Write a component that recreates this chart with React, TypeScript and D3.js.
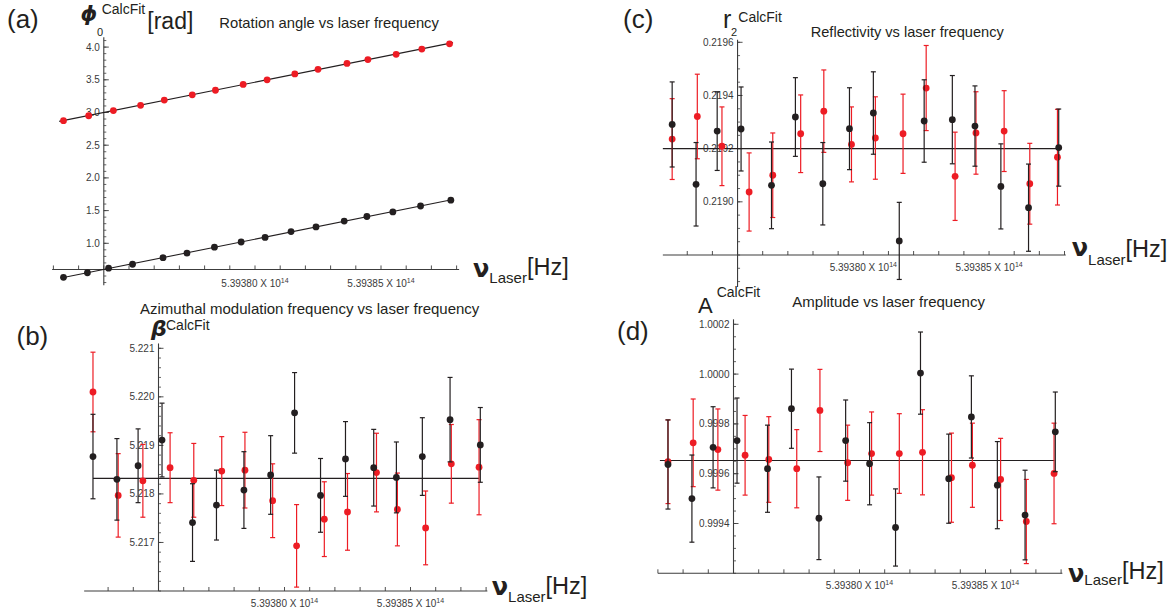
import React from 'react';
import * as d3 from 'd3';

// Laser frequency is stored as detuning (GHz) from this reference.
const NU_REF_HZ = 5.3938e14;
const GHZ = 1e9;

const nuBlackGHz = [-7.6, -6.65, -5.81, -4.86, -3.65, -2.7, -1.61, -0.55, 0.4, 1.43, 2.42, 3.54, 4.44, 5.47, 6.57, 7.77];
const nuRedGHz = [-7.6, -6.6, -5.62, -4.54, -3.6, -2.49, -1.57, -0.47, 0.48, 1.58, 2.5, 3.65, 4.48, 5.6, 6.62, 7.72];
const nuTickLabelsGHz = [0, 5];

// (a) rotation angle [rad]
const phiBlack = [0.48, 0.55, 0.62, 0.68, 0.78, 0.85, 0.94, 1.02, 1.09, 1.18, 1.25, 1.34, 1.41, 1.48, 1.57, 1.66];
const phiRed = [2.875, 2.95, 3.03, 3.11, 3.19, 3.27, 3.34, 3.43, 3.5, 3.59, 3.66, 3.75, 3.81, 3.89, 3.97, 4.05];
const phiTicks = [1.0, 1.5, 2.0, 2.5, 3.0, 3.5, 4.0];

// (b) azimuthal modulation frequency
const betaBlack = [5.21877, 5.2183, 5.21858, 5.21911, 5.21741, 5.21777, 5.21808, 5.21839, 5.21967, 5.21797, 5.21872, 5.21854, 5.21834, 5.21877, 5.21953, 5.21901];
const betaBlackErr = [0.00087, 0.00084, 0.00076, 0.00076, 0.0008, 0.00072, 0.00079, 0.00081, 0.00083, 0.00076, 0.00077, 0.00079, 0.00073, 0.0008, 0.00087, 0.00077];
const betaRed = [5.2201, 5.21797, 5.21827, 5.21854, 5.21828, 5.21847, 5.21849, 5.21786, 5.21693, 5.21748, 5.21763, 5.21844, 5.21768, 5.2173, 5.21862, 5.21855];
const betaRedErr = [0.00082, 0.00086, 0.00075, 0.00072, 0.00076, 0.00071, 0.00078, 0.00076, 0.00085, 0.00077, 0.00079, 0.00081, 0.00075, 0.00076, 0.00081, 0.00098];
const betaFit = 5.21832;
const betaTicks = [5.217, 5.218, 5.219, 5.22, 5.221];

// (c) reflectivity
const r2Black = [0.219291, 0.219066, 0.219266, 0.219274, 0.219062, 0.219319, 0.219068, 0.219275, 0.219334, 0.218853, 0.219304, 0.219309, 0.219285, 0.219058, 0.218978, 0.219204];
const r2BlackErr = [1.6e-4, 1.57e-4, 1.48e-4, 1.58e-4, 1.63e-4, 1.48e-4, 1.55e-4, 1.54e-4, 1.55e-4, 1.45e-4, 1.55e-4, 1.66e-4, 1.51e-4, 1.6e-4, 1.64e-4, 1.45e-4];
const r2Red = [0.219236, 0.219321, 0.219209, 0.219037, 0.2191, 0.219256, 0.219341, 0.219216, 0.21924, 0.219256, 0.219428, 0.219096, 0.219259, 0.219266, 0.219068, 0.219168];
const r2RedErr = [1.52e-4, 1.59e-4, 1.48e-4, 1.47e-4, 1.59e-4, 1.46e-4, 1.55e-4, 1.41e-4, 1.55e-4, 1.49e-4, 1.6e-4, 1.66e-4, 1.55e-4, 1.52e-4, 1.52e-4, 1.8e-4];
const r2Fit = 0.2192;
const r2Ticks = [0.219, 0.2192, 0.2194, 0.2196];

// (d) amplitude
const ampBlack = [0.999637, 0.9995, 0.999706, 0.999733, 0.99962, 0.999861, 0.999421, 0.999733, 0.99964, 0.999384, 1.000004, 0.99958, 0.999828, 0.999554, 0.999434, 0.999768];
const ampBlackErr = [1.79e-4, 1.75e-4, 1.63e-4, 1.71e-4, 1.75e-4, 1.59e-4, 1.66e-4, 1.63e-4, 1.65e-4, 1.55e-4, 1.65e-4, 1.79e-4, 1.65e-4, 1.75e-4, 1.8e-4, 1.6e-4];
const ampRed = [0.999648, 0.999724, 0.999697, 0.999674, 0.999657, 0.99962, 0.999854, 0.999644, 0.999681, 0.999681, 0.999686, 0.999584, 0.999634, 0.999577, 0.999408, 0.999601];
const ampRedErr = [1.68e-4, 1.76e-4, 1.63e-4, 1.6e-4, 1.72e-4, 1.57e-4, 1.65e-4, 1.51e-4, 1.67e-4, 1.6e-4, 1.71e-4, 1.79e-4, 1.69e-4, 1.65e-4, 1.69e-4, 2.02e-4];
const ampFit = 0.999653;
const ampTicks = [0.9994, 0.9996, 0.9998, 1.0, 1.0002];

const INK = '#231f20';
const RED = '#ed1c24';
const AXIS = '#3c3c3c';
const TICK_TEXT = '#3a3a3a';
const FONT = '"Liberation Sans", Arial, Helvetica, sans-serif';
const SYMBOL_FONT = '"DejaVu Sans", "Liberation Sans", sans-serif';

type Scale = d3.ScaleLinear<number, number>;

interface AxisSpec {
  x: Scale;
  y: Scale;
  xAxisAt: number;
  xAxisSpan: [number, number];
  yAxisAt: number;
  yAxisSpan: [number, number];
  yTicks: number[];
  yMinor: number[];
  yFmt: (v: number) => string;
  labelDy: number;
}

const fmtNu = (g: number) => ((NU_REF_HZ + g * GHZ) / 1e14).toFixed(5);

function Axes({ s }: { s: AxisSpec }) {
  const y0 = s.y(s.xAxisAt);
  const x0 = s.x(s.yAxisAt);
  const xt = d3.range(Math.ceil(s.xAxisSpan[0]), Math.floor(s.xAxisSpan[1]) + 1);
  return (
    <g>
      <line x1={s.x(s.xAxisSpan[0])} x2={s.x(s.xAxisSpan[1])} y1={y0} y2={y0} stroke={AXIS} strokeWidth={1.1} />
      {xt.map((t) => (
        <line key={'xt' + t} x1={s.x(t)} x2={s.x(t)} y1={y0} y2={y0 - 4} stroke={AXIS} strokeWidth={0.9} />
      ))}
      {nuTickLabelsGHz.map((t) => (
        <text key={'xl' + t} x={s.x(t)} y={y0 + s.labelDy} textAnchor="middle" fontSize={10} fill={TICK_TEXT} fontFamily={FONT}>
          {fmtNu(t)} X 10<tspan dy={-4} fontSize={7}>14</tspan>
        </text>
      ))}
      <line x1={x0} x2={x0} y1={s.y(s.yAxisSpan[0])} y2={s.y(s.yAxisSpan[1])} stroke={AXIS} strokeWidth={1.1} />
      {s.yMinor.map((t, i) => (
        <line key={'ym' + i} x1={x0} x2={x0 + 2.5} y1={s.y(t)} y2={s.y(t)} stroke={AXIS} strokeWidth={0.8} />
      ))}
      {s.yTicks.map((t, i) => (
        <g key={'yt' + i}>
          <line x1={x0} x2={x0 + 5} y1={s.y(t)} y2={s.y(t)} stroke={AXIS} strokeWidth={0.9} />
          <text x={x0 - 4} y={s.y(t) + 3.5} textAnchor="end" fontSize={10} fill={TICK_TEXT} fontFamily={FONT}>
            {s.yFmt(t)}
          </text>
        </g>
      ))}
    </g>
  );
}

function Series({ x, y, nu, vals, err, color }: { x: Scale; y: Scale; nu: number[]; vals: number[]; err?: number[]; color: string }) {
  return (
    <g>
      {err &&
        vals.map((v, i) => {
          const cx = x(nu[i]);
          const top = y(v + err[i]);
          const bot = y(v - err[i]);
          return (
            <g key={'e' + i} stroke={color} strokeWidth={1.2}>
              <line x1={cx} x2={cx} y1={top} y2={bot} />
              <line x1={cx - 2.5} x2={cx + 2.5} y1={top} y2={top} />
              <line x1={cx - 2.5} x2={cx + 2.5} y1={bot} y2={bot} />
            </g>
          );
        })}
      {vals.map((v, i) => (
        <circle key={'p' + i} cx={x(nu[i])} cy={y(v)} r={3.4} fill={color} />
      ))}
    </g>
  );
}

function linearFit(xs: number[], ys: number[]) {
  const mx = d3.mean(xs) as number;
  const my = d3.mean(ys) as number;
  let sxy = 0;
  let sxx = 0;
  xs.forEach((xv, i) => {
    sxy += (xv - mx) * (ys[i] - my);
    sxx += (xv - mx) * (xv - mx);
  });
  const slope = sxy / sxx;
  return (xv: number) => my + slope * (xv - mx);
}

function FitLine({ x, y, f, span }: { x: Scale; y: Scale; f: (v: number) => number; span: [number, number] }) {
  const line = d3
    .line<number>()
    .x((d) => x(d))
    .y((d) => y(f(d)));
  return <path d={line(span) || ''} stroke={INK} strokeWidth={1.1} fill="none" />;
}

function NuLabel({ x, y, dyLaser, dyHz }: { x: number; y: number; dyLaser: number; dyHz: number }) {
  return (
    <text x={x} y={y} fill={INK} fontFamily={FONT}>
      <tspan fontSize={24} fontWeight="bold" fontFamily={SYMBOL_FONT}>ν</tspan>
      <tspan fontSize={15} dy={dyLaser}>Laser</tspan>
      <tspan fontSize={23.5} dy={dyHz}>[Hz]</tspan>
    </text>
  );
}

export default function App() {
  // (a)
  const aS: AxisSpec = {
    x: d3.scaleLinear().domain([-8, 8]).range([53.4, 456.6]),
    y: d3.scaleLinear().domain([1, 4]).range([243.3, 47.1]),
    xAxisAt: 0.6,
    xAxisSpan: [-8.05, 8.1],
    yAxisAt: -6,
    yAxisSpan: [0.36, 4.15],
    yTicks: phiTicks,
    yMinor: d3.range(4, 42).map((i) => i / 10),
    yFmt: d3.format('.1f'),
    labelDy: 17.5,
  };
  // (b)
  const bS: AxisSpec = {
    x: d3.scaleLinear().domain([-8, 8]).range([82.9, 486.1]),
    y: d3.scaleLinear().domain([5.216, 5.221]).range([591, 348.3]),
    xAxisAt: 5.216,
    xAxisSpan: [-7.95, 8.05],
    yAxisAt: -5,
    yAxisSpan: [5.216, 5.2211],
    yTicks: betaTicks,
    yMinor: d3.range(0, 26).map((i) => 5.216 + i * 0.0002),
    yFmt: d3.format('.3f'),
    labelDy: 16,
  };
  // (c)
  const cS: AxisSpec = {
    x: d3.scaleLinear().domain([-8, 8]).range([662.1, 1064.5]),
    y: d3.scaleLinear().domain([0.2188, 0.2196]).range([255, 42.3]),
    xAxisAt: 0.2188,
    xAxisSpan: [-7.97, 8.05],
    yAxisAt: -5,
    yAxisSpan: [0.21868, 0.21961],
    yTicks: r2Ticks,
    yMinor: d3.range(0, 19).map((i) => 0.2187 + i * 0.00005),
    yFmt: d3.format('.4f'),
    labelDy: 15.5,
  };
  // (d)
  const dS: AxisSpec = {
    x: d3.scaleLinear().domain([-8, 8]).range([657.9, 1061.1]),
    y: d3.scaleLinear().domain([0.9992, 1.0002]).range([573.3, 324.3]),
    xAxisAt: 0.9992,
    xAxisSpan: [-8.0, 8.05],
    yAxisAt: -5,
    yAxisSpan: [0.9992, 1.00022],
    yTicks: ampTicks,
    yMinor: d3.range(0, 21).map((i) => 0.9992 + i * 0.00005),
    yFmt: d3.format('.4f'),
    labelDy: 15.5,
  };

  const fitBlackA = linearFit(nuBlackGHz, phiBlack);
  const fitRedA = linearFit(nuRedGHz, phiRed);

  return (
    <svg width={1175} height={613} style={{ position: 'absolute', left: 0, top: 0, background: '#fff' }} fontFamily={FONT}>
      {/* (a) rotation angle */}
      <Axes s={aS} />
      <FitLine x={aS.x} y={aS.y} f={fitRedA} span={[-7.77, 7.86]} />
      <FitLine x={aS.x} y={aS.y} f={fitBlackA} span={[-7.7, 7.9]} />
      <Series x={aS.x} y={aS.y} nu={nuRedGHz} vals={phiRed} color={RED} />
      <Series x={aS.x} y={aS.y} nu={nuBlackGHz} vals={phiBlack} color={INK} />
      <text x={7} y={28} fontSize={26} fill={INK}>(a)</text>
      <text x={80.5} y={20.5} fontSize={21} fontWeight="bold" fontStyle="italic" fill={INK} fontFamily={SYMBOL_FONT}>ϕ</text>
      <text x={97} y={36} fontSize={11} fill={INK}>0</text>
      <text x={101.7} y={13.5} fontSize={14} fill={INK}>CalcFit</text>
      <text x={147.3} y={28.5} fontSize={23} fill={INK}>[rad]</text>
      <text x={219.3} y={28.3} fontSize={14.8} fill={INK}>Rotation angle vs laser frequency</text>
      <NuLabel x={473} y={277} dyLaser={6} dyHz={-8} />

      {/* (b) azimuthal modulation frequency */}
      <Axes s={bS} />
      <FitLine x={bS.x} y={bS.y} f={() => betaFit} span={[-7.6, 7.72]} />
      <Series x={bS.x} y={bS.y} nu={nuRedGHz} vals={betaRed} err={betaRedErr} color={RED} />
      <Series x={bS.x} y={bS.y} nu={nuBlackGHz} vals={betaBlack} err={betaBlackErr} color={INK} />
      <text x={16.5} y={344.5} fontSize={26} fill={INK}>(b)</text>
      <text x={151} y={336} fontSize={22} fontWeight="bold" fontStyle="italic" fill={INK} fontFamily={SYMBOL_FONT}>β</text>
      <text x={166} y={330} fontSize={14} fill={INK}>CalcFit</text>
      <text x={140} y={314.3} fontSize={15} fill={INK}>Azimuthal modulation frequency vs laser frequency</text>
      <NuLabel x={491.7} y={595} dyLaser={6.7} dyHz={-8.2} />

      {/* (c) reflectivity */}
      <Axes s={cS} />
      <FitLine x={cS.x} y={cS.y} f={() => r2Fit} span={[-7.97, 7.89]} />
      <Series x={cS.x} y={cS.y} nu={nuRedGHz} vals={r2Red} err={r2RedErr} color={RED} />
      <Series x={cS.x} y={cS.y} nu={nuBlackGHz} vals={r2Black} err={r2BlackErr} color={INK} />
      <text x={623} y={27.8} fontSize={26} fill={INK}>(c)</text>
      <text x={723} y={28.3} fontSize={25} fill={INK}>r</text>
      <text x={731} y={36} fontSize={11} fill={INK}>2</text>
      <text x={738.3} y={21.7} fontSize={14} fill={INK}>CalcFit</text>
      <text x={810.7} y={36.5} fontSize={14.6} fill={INK}>Reflectivity vs laser frequency</text>
      <NuLabel x={1071.7} y={256} dyLaser={9} dyHz={-8} />

      {/* (d) amplitude */}
      <Axes s={dS} />
      <FitLine x={dS.x} y={dS.y} f={() => ampFit} span={[-7.92, 7.73]} />
      <Series x={dS.x} y={dS.y} nu={nuRedGHz} vals={ampRed} err={ampRedErr} color={RED} />
      <Series x={dS.x} y={dS.y} nu={nuBlackGHz} vals={ampBlack} err={ampBlackErr} color={INK} />
      <text x={617} y={339.5} fontSize={26} fill={INK}>(d)</text>
      <text x={698} y={313} fontSize={22} fill={INK}>A</text>
      <text x={716.7} y={297} fontSize={14} fill={INK}>CalcFit</text>
      <text x={792.3} y={306.7} fontSize={15} fill={INK}>Amplitude vs laser frequency</text>
      <NuLabel x={1068} y={581.7} dyLaser={3.3} dyHz={-6} />
    </svg>
  );
}
